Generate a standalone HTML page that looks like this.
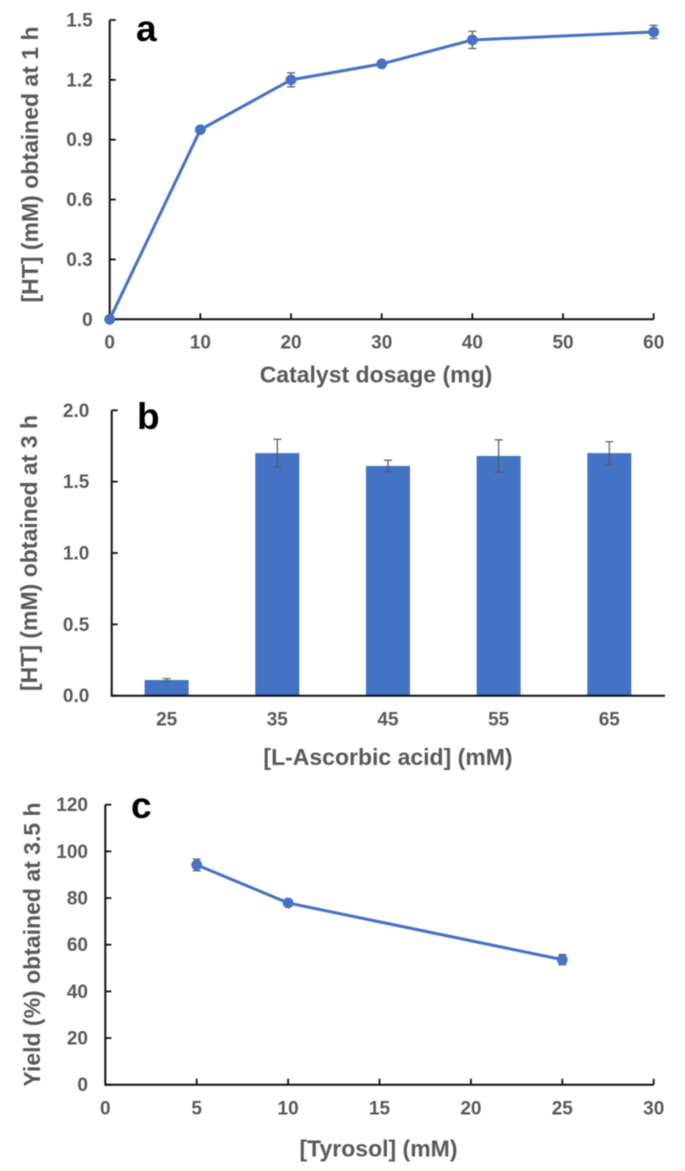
<!DOCTYPE html>
<html>
<head>
<meta charset="utf-8">
<style>
html,body{margin:0;padding:0;background:#fff;}
#figure{display:block;width:685px;height:1171px;font-family:"Liberation Sans",Arial,sans-serif;font-weight:bold;}
#figure-inner{filter:blur(0.45px);}
.tick{font-size:19px;fill:#595959;}
.title{font-size:23px;fill:#595959;}
.letter{font-size:37px;fill:#000;}
</style>
</head>
<body>
<svg id="figure" xmlns="http://www.w3.org/2000/svg" width="685" height="1171" viewBox="0 0 685 1171">
<g id="figure-inner">
<rect width="685" height="1171" fill="#fff"/>
<text class="letter" x="136" y="41">a</text>
<text class="title" x="376" y="382.5" text-anchor="middle">Catalyst dosage (mg)</text>
<text class="title" transform="translate(38 164.5) rotate(-90)" text-anchor="middle">[HT] (mM) obtained at 1 h</text>
<text class="letter" x="137" y="429">b</text>
<text class="title" x="388" y="765" text-anchor="middle">[L-Ascorbic acid] (mM)</text>
<text class="title" transform="translate(37 553) rotate(-90)" text-anchor="middle">[HT] (mM) obtained at 3 h</text>
<text class="letter" x="131" y="818">c</text>
<text class="title" x="378.5" y="1156.5" text-anchor="middle">[Tyrosol] (mM)</text>
<text class="title" transform="translate(40 944.5) rotate(-90)" text-anchor="middle">Yield (%) obtained at 3.5 h</text>
<g id="panel-a"></g>
<g id="panel-b"></g>
<g id="panel-c"></g>
</g>
</svg>
<script>
// Panel a data
const aXTicks = [0, 10, 20, 30, 40, 50, 60];
const aYTicks = [0, 0.3, 0.6, 0.9, 1.2, 1.5];
const aYLabels = ["0", "0.3", "0.6", "0.9", "1.2", "1.5"];
const aX = [0, 10, 20, 30, 40, 60];
const aY = [0, 0.95, 1.2, 1.28, 1.4, 1.44];
const aErr = [0.005, 0.012, 0.035, 0.012, 0.043, 0.033];

// Panel b data
const bCategories = ["25", "35", "45", "55", "65"];
const bValues = [0.11, 1.7, 1.61, 1.68, 1.7];
const bErr = [0.01, 0.097, 0.04, 0.113, 0.08];
const bYTicks = [0, 0.5, 1, 1.5, 2];
const bYLabels = ["0.0", "0.5", "1.0", "1.5", "2.0"];

// Panel c data
const cXTicks = [0, 5, 10, 15, 20, 25, 30];
const cYTicks = [0, 20, 40, 60, 80, 100, 120];
const cX = [5, 10, 25];
const cY = [94.2, 77.9, 53.6];
const cErr = [2.5, 1, 2.2];

const NS = 'http://www.w3.org/2000/svg';
const BLUE = '#4472C4';
const INK = '#111';
const ERR = '#595959';

function make(parent, tag, props) {
  const el = document.createElementNS(NS, tag);
  for (const k in props) el.setAttribute(k, props[k]);
  parent.appendChild(el);
  return el;
}
function scale(d0, d1, r0, r1) {
  return v => r0 + (v - d0) / (d1 - d0) * (r1 - r0);
}
function drawAxisLines(root, left, right, top, bottom) {
  const yAxis = make(root, 'line', {x1: left, x2: left, y1: top, y2: bottom + 1, stroke: INK, 'stroke-width': 2});
  
  
  const xAxis = make(root, 'line', {x1: left, x2: right, y1: bottom, y2: bottom, stroke: INK, 'stroke-width': 2});
  
  
}
function drawYTicks(root, ticks, labels, sy, left, labelRight) {
  ticks.forEach((t, i) => {
    const tick = make(root, 'line', {x1: left, x2: left + 6, y1: sy(t), y2: sy(t), stroke: INK, 'stroke-width': 1.8});
    
    
    const label = make(root, 'text', {x: labelRight, y: sy(t) + 6.5, 'text-anchor': 'end', class: 'tick'});
    label.textContent = labels[i];
    
    
  });
}
function drawXTicks(root, ticks, sx, bottom, labelY) {
  ticks.forEach(t => {
    if (t !== 0) {
      const tick = make(root, 'line', {x1: sx(t), x2: sx(t), y1: bottom, y2: bottom - 6, stroke: INK, 'stroke-width': 1.8});
      
      
    }
    const label = make(root, 'text', {x: sx(t), y: labelY, 'text-anchor': 'middle', class: 'tick'});
    label.textContent = String(t);
    
    
  });
}
function drawErrorBar(root, x, yLo, yHi, cap) {
  const g = make(root, 'path', {
    d: 'M' + (x - cap) + ' ' + yHi + 'H' + (x + cap) + 'M' + x + ' ' + yHi + 'V' + yLo + 'M' + (x - cap) + ' ' + yLo + 'H' + (x + cap),
    fill: 'none', stroke: ERR, 'stroke-width': 1.2
  });
  
  
}
function drawLineSeries(root, xs, ys, errs, sx, sy) {
  xs.forEach((x, i) => drawErrorBar(root, sx(x), sy(ys[i] - errs[i]), sy(ys[i] + errs[i]), 4));
  const pts = xs.map((x, i) => sx(x) + ',' + sy(ys[i])).join(' ');
  const line = make(root, 'polyline', {points: pts, fill: 'none', stroke: BLUE, 'stroke-width': 3, 'stroke-linejoin': 'round'});
  
  
  xs.forEach((x, i) => {
    const dot = make(root, 'circle', {cx: sx(x), cy: sy(ys[i]), r: 5.4, fill: BLUE});
    
    
  });
}

// Panel a
(function () {
  const root = document.getElementById('panel-a');
  const sx = scale(0, 60, 109.7, 653.7);
  const sy = scale(0, 1.5, 319.3, 20);
  drawAxisLines(root, sx(0), sx(60), sy(1.5), sy(0));
  drawYTicks(root, aYTicks, aYLabels, sy, sx(0), 92.7);
  drawXTicks(root, aXTicks, sx, sy(0), 348.7);
  drawLineSeries(root, aX, aY, aErr, sx, sy);
})();

// Panel b
(function () {
  const root = document.getElementById('panel-b');
  const left = 111.7, right = 665, catLeft = 111.3, catWidth = 110.67, barWidth = 44;
  const sy = scale(0, 2, 695.7, 410.3);
  bValues.forEach((v, i) => {
    const cx = catLeft + catWidth * (i + 0.5);
    const bar = make(root, 'rect', {x: cx - barWidth / 2, y: sy(v), width: barWidth, height: sy(0) - sy(v), fill: BLUE});
    
    
    drawErrorBar(root, cx, sy(v - bErr[i]), sy(v + bErr[i]), 4);
    const label = make(root, 'text', {x: cx, y: 725.7, 'text-anchor': 'middle', class: 'tick'});
    label.textContent = bCategories[i];
    
    
  });
  drawAxisLines(root, left, right, sy(2), sy(0));
  drawYTicks(root, bYTicks, bYLabels, sy, left, 89.3);
})();

// Panel c
(function () {
  const root = document.getElementById('panel-c');
  const sx = scale(0, 30, 105.3, 653.7);
  const sy = scale(0, 120, 1084.7, 804.7);
  drawAxisLines(root, sx(0), sx(30), sy(120), sy(0));
  drawYTicks(root, cYTicks, cYTicks.map(String), sy, sx(0), 88);
  drawXTicks(root, cXTicks, sx, sy(0), 1114.3);
  drawLineSeries(root, cX, cY, cErr, sx, sy);
})();
</script>
</body>
</html>
